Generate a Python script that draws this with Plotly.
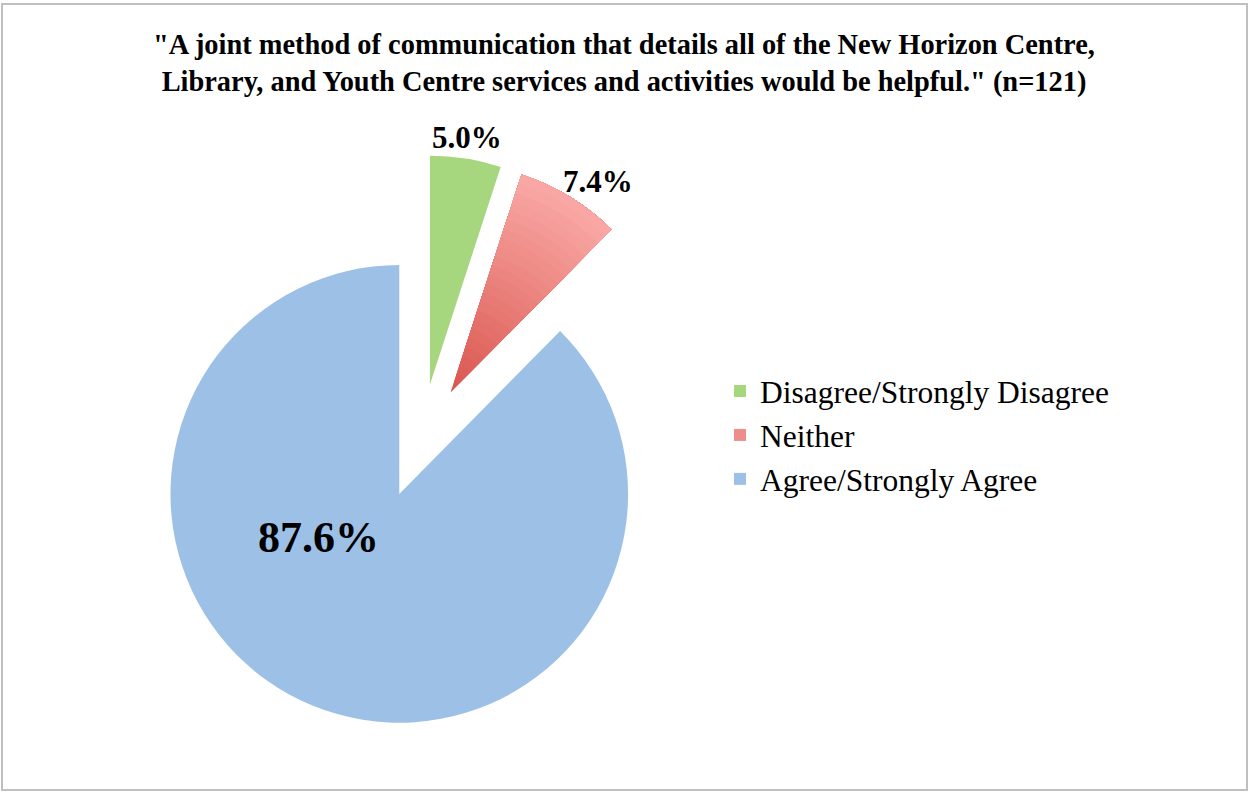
import plotly.graph_objects as go

categories = ["Disagree/Strongly Disagree", "Neither", "Agree/Strongly Agree"]
percentages = [5.0, 7.4, 87.6]
slice_colors = ["#A6D67E", "#EC8F8B", "#9DC1E6"]
label_sizes = [31, 31, 44]

title_text = ('<b>"A joint method of communication that details all of the New Horizon Centre,<br>'
              'Library, and Youth Centre services and activities would be helpful." (n=121)</b>')

W, H = 1248, 792
PIE_DOMAIN = dict(x=[135 / W, 707 / W], y=[(H - 727) / H, (H - 155) / H])
PULL = [0.25, 0.25, 0.25]
# label anchor positions (pixels from top-left of the figure)
LABEL_POS = [(467, 137), (598, 181), (318, 537)]

fig = go.Figure()
fig.add_trace(go.Pie(
    labels=categories,
    values=percentages,
    sort=False,
    direction="clockwise",
    rotation=0,
    pull=PULL,
    marker=dict(colors=slice_colors, line=dict(width=0)),
    textinfo="none",
    domain=PIE_DOMAIN,
    hoverinfo="label+percent",
))

# radial shading of the "Neither" slice (dark near the centre, light at the rim)
dark, light = (0xDA, 0x58, 0x50), (0xF9, 0xA7, 0xA4)
n_steps = 24
for k in range(n_steps):
    t = k / (n_steps - 1)
    c = tuple(round(dark[j] + (light[j] - dark[j]) * t) for j in range(3))
    fig.add_trace(go.Pie(
        labels=categories,
        values=percentages,
        sort=False,
        direction="clockwise",
        rotation=0,
        pull=PULL,
        hole=k / n_steps,
        marker=dict(colors=["rgba(0,0,0,0)", "rgb(%d,%d,%d)" % c, "rgba(0,0,0,0)"],
                    line=dict(width=0)),
        textinfo="none",
        domain=PIE_DOMAIN,
        hoverinfo="skip",
        showlegend=False,
    ))

annotations = [
    dict(text="<b>%.1f%%</b>" % v, x=px / W, y=1 - py / H, xref="paper", yref="paper",
         xanchor="center", yanchor="middle", showarrow=False,
         font=dict(family="Liberation Serif", size=s, color="black"))
    for v, s, (px, py) in zip(percentages, label_sizes, LABEL_POS)
]

fig.update_layout(
    width=W, height=H,
    margin=dict(l=0, r=0, t=0, b=0, autoexpand=False),
    paper_bgcolor="white",
    font=dict(family="Liberation Serif", color="black"),
    title=dict(text=title_text, x=0.5, xanchor="center", y=1 - 54 / H, yanchor="top",
               font=dict(family="Liberation Serif", size=28.4, color="black")),
    legend=dict(x=720 / W, xanchor="left", y=1 - 364 / H, yanchor="top",
                font=dict(family="Liberation Serif", size=31.5, color="black"),
                itemsizing="constant", bgcolor="rgba(0,0,0,0)"),
    annotations=annotations,
    shapes=[dict(type="rect", xref="paper", yref="paper", x0=2 / W, x1=1247 / W,
                 y0=1 - 790 / H, y1=1 - 4 / H, line=dict(color="#BFBFBF", width=2))],
)

page_fix = "document.body.style.margin='0';document.documentElement.style.overflow='hidden';"

fig.write_html("out.html", config={"displayModeBar": False}, post_script=page_fix)
